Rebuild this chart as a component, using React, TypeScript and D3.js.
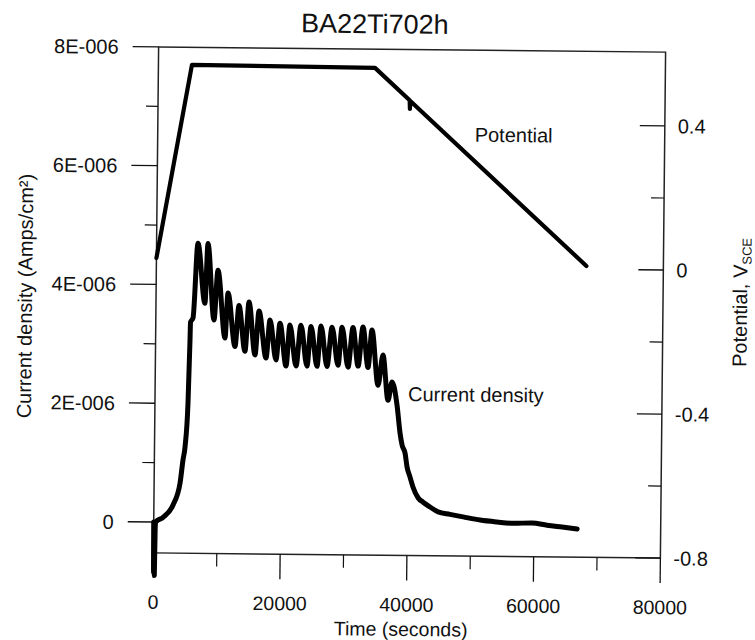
import * as d3 from "d3";

const WIDTH = 755;
const HEIGHT = 640;
const FRAME = { left: 156, right: 663, top: 49.5, bottom: 555.5 };
const TILT = 0.59; // the scanned page sits slightly rotated
const FONT = "'Liberation Sans', Arial, Helvetica, sans-serif";

// axes
const timeTicks = [0, 20000, 40000, 60000, 80000];
const timeMinorTicks = [10000, 30000, 50000, 70000];
const currentTicks = [0, 2, 4, 6, 8]; // µA/cm²
const currentTickLabels = ["0", "2E-006", "4E-006", "6E-006", "8E-006"];
const currentMinorTicks = [1, 3, 5, 7];
const potentialTicks = [-0.8, -0.4, 0, 0.4];
const potentialTickLabels = ["-0.8", "-0.4", "0", "0.4"];
const potentialMinorTicks = [-0.6, -0.2, 0.2];

// current density, µA/cm²
const currentTime = [
  0, 60, 120, 180, 240, 300, 1470, 3020, 4090, 4520, 4820, 5215, 5430, 5480,
  5870, 6530, 7730, 8110, 9180, 9730, 10950, 11350, 12540, 13100, 14120, 14680,
  15710, 16270, 17450, 18020, 19030, 19600, 20620, 21170, 22200, 22910, 23930,
  24500, 25510, 26080, 27090, 27820, 28830, 29400, 30410, 31130, 31990, 32710,
  33560, 34130, 35170, 35900, 36770, 37370, 38200, 38720, 39060, 39550, 39880,
  40370, 40860, 41690, 42470, 43580, 44850, 46740, 48810, 51500, 54170, 56700,
  59690, 62060, 64440, 66820,
];
const currentValue = [
  0, -0.85, -0.15, -0.9, -0.1, 0.0, 0.08, 0.29, 0.66, 1.05, 1.27, 2.01, 3.07,
  3.37, 3.44, 4.7, 3.69, 4.7, 3.41, 4.25, 3.11, 3.87, 2.97, 3.66, 2.89, 3.72,
  2.83, 3.57, 2.78, 3.42, 2.75, 3.37, 2.65, 3.34, 2.65, 3.34, 2.65, 3.32, 2.65,
  3.33, 2.65, 3.31, 2.67, 3.31, 2.64, 3.31, 2.66, 3.32, 2.64, 3.27, 2.34, 2.85,
  2.09, 2.4, 2.01, 1.54, 1.34, 1.2, 0.97, 0.8, 0.63, 0.45, 0.38, 0.3, 0.22,
  0.18, 0.14, 0.09, 0.06, 0.04, 0.05, 0.015, -0.015, -0.045,
];

// potential, V vs SCE
const potentialTime = [0, 5290, 34180, 39700, 39750, 39800, 67850];
const potentialValue = [0.019, 0.556, 0.553, 0.464, 0.44, 0.462, 0.009];

export default function App() {
  const x = d3.scaleLinear().domain([0, 80000]).range([FRAME.left, FRAME.right]);
  const yCur = d3.scaleLinear().domain([-0.52, 8]).range([FRAME.bottom, FRAME.top]);
  const yPot = d3.scaleLinear().domain([-0.8, 0.605]).range([FRAME.bottom, FRAME.top]);

  const currentPath = d3
    .line<number>()
    .x((_, i) => x(currentTime[i]))
    .y((d) => yCur(d))
    .curve(d3.curveMonotoneX)(currentValue);

  const potentialPath = d3
    .line<number>()
    .x((_, i) => x(potentialTime[i]))
    .y((d) => yPot(d))(potentialValue);

  const text = { fontFamily: FONT, fill: "#111" };

  return (
    <svg
      width={WIDTH}
      height={HEIGHT}
      style={{ position: "absolute", left: 0, top: 0, background: "#fff" }}
    >
      <g transform={`rotate(${TILT} 409 302)`}>
        <text x={372} y={33.5} textAnchor="middle" fontSize={27} {...text}>
          BA22Ti702h
        </text>

        {/* frame */}
        <rect
          x={FRAME.left}
          y={FRAME.top}
          width={FRAME.right - FRAME.left}
          height={FRAME.bottom - FRAME.top}
          fill="none"
          stroke="#222"
          strokeWidth={1.5}
        />

        {/* left axis */}
        {currentTicks.map((v, i) => (
          <g key={"cl" + i}>
            <line x1={FRAME.left - 26} x2={FRAME.left} y1={yCur(v)} y2={yCur(v)} stroke="#111" strokeWidth={1.3} />
            <text x={116} y={yCur(v)} dy="0.36em" textAnchor="end" fontSize={20} {...text}>
              {currentTickLabels[i]}
            </text>
          </g>
        ))}
        {currentMinorTicks.map((v, i) => (
          <line key={"cm" + i} x1={FRAME.left - 12} x2={FRAME.left} y1={yCur(v)} y2={yCur(v)} stroke="#111" strokeWidth={1.2} />
        ))}
        <text
          transform={`translate(32,300) rotate(-90)`}
          textAnchor="middle"
          fontSize={20}
          {...text}
        >
          Current density (Amps/cm²)
        </text>

        {/* bottom axis */}
        {timeTicks.map((t, i) => (
          <g key={"tx" + i}>
            <line x1={x(t)} x2={x(t)} y1={FRAME.bottom} y2={FRAME.bottom + 25} stroke="#111" strokeWidth={1.3} />
            <text x={x(t)} y={611.5} textAnchor="middle" fontSize={19.5} {...text}>
              {t}
            </text>
          </g>
        ))}
        {timeMinorTicks.map((t, i) => (
          <line key={"tm" + i} x1={x(t)} x2={x(t)} y1={FRAME.bottom} y2={FRAME.bottom + 13} stroke="#111" strokeWidth={1.2} />
        ))}
        <text x={404} y={636} textAnchor="middle" fontSize={19.5} {...text}>
          Time (seconds)
        </text>

        {/* right axis, ticks point inward */}
        {potentialTicks.map((v, i) => (
          <g key={"pr" + i}>
            <line x1={FRAME.right - 25} x2={FRAME.right} y1={yPot(v)} y2={yPot(v)} stroke="#111" strokeWidth={1.3} />
            <text x={676} y={yPot(v)} dy="0.36em" textAnchor="start" fontSize={20} {...text}>
              {potentialTickLabels[i]}
            </text>
          </g>
        ))}
        {potentialMinorTicks.map((v, i) => (
          <line key={"pm" + i} x1={FRAME.right - 13} x2={FRAME.right} y1={yPot(v)} y2={yPot(v)} stroke="#111" strokeWidth={1.2} />
        ))}
        <text
          transform={`translate(747,299) rotate(-90)`}
          textAnchor="middle"
          fontSize={20}
          {...text}
        >
          Potential, V
          <tspan fontSize={13} dy={4}>
            SCE
          </tspan>
        </text>

        {/* data */}
        <path d={potentialPath ?? ""} fill="none" stroke="#000" strokeWidth={4.2} strokeLinejoin="round" strokeLinecap="round" />
        <path d={currentPath ?? ""} fill="none" stroke="#000" strokeWidth={5} strokeLinejoin="round" strokeLinecap="round" />

        <text x={473} y={141} fontSize={20} {...text}>
          Potential
        </text>
        <text x={409} y={401} fontSize={20} {...text}>
          Current density
        </text>
      </g>
    </svg>
  );
}
